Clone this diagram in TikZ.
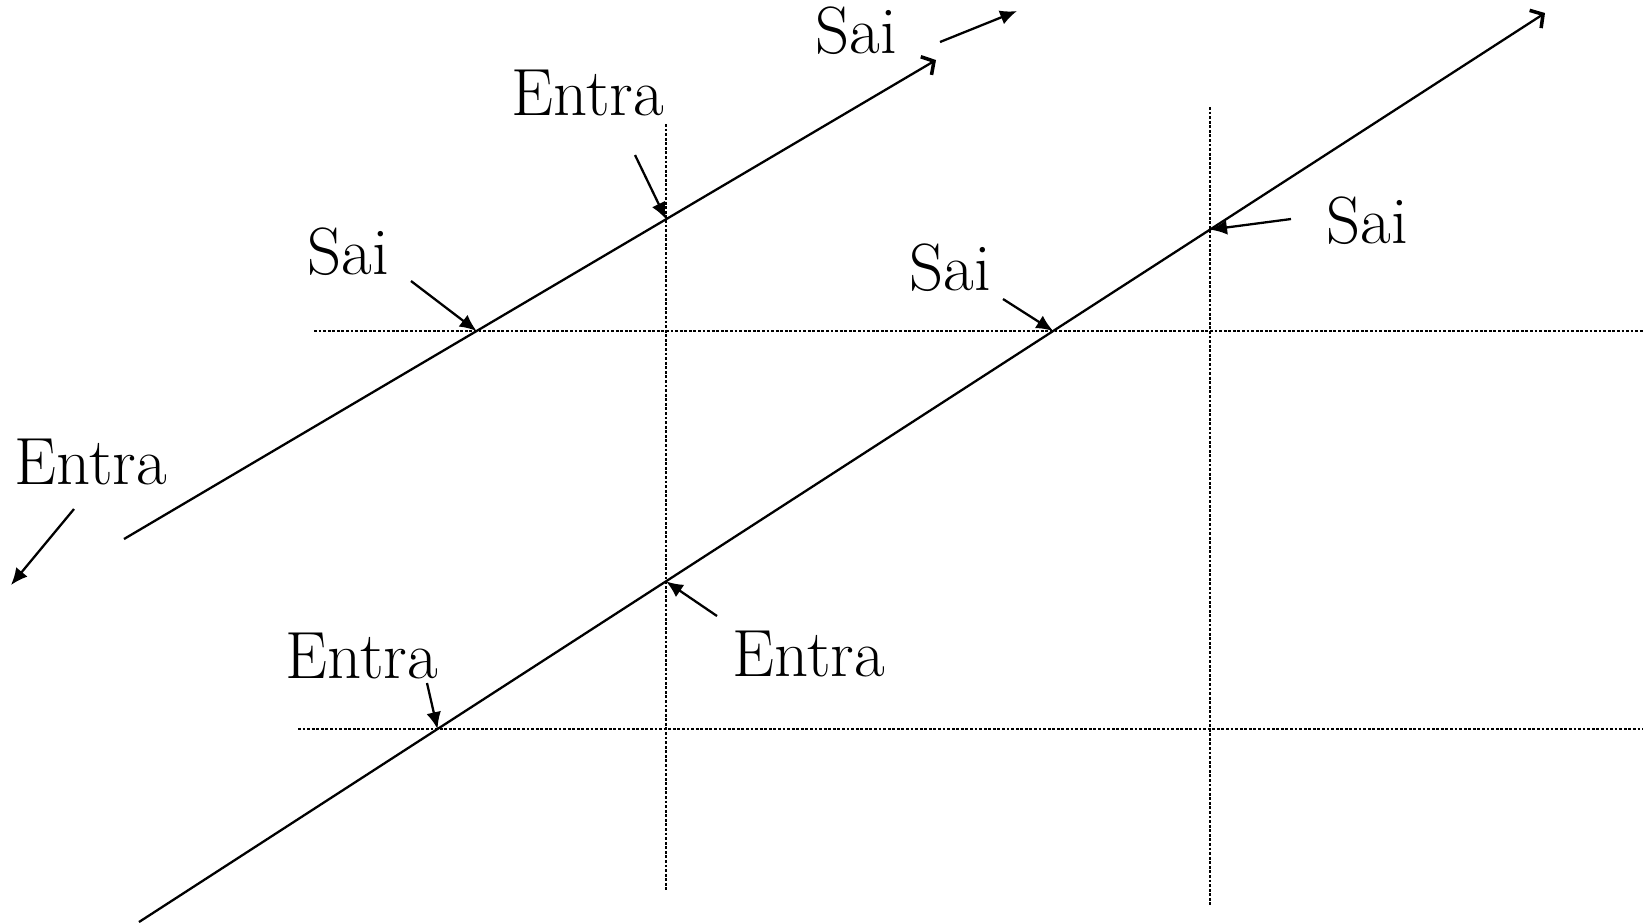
\documentclass[tikz,border=0pt]{standalone}
\usetikzlibrary{arrows.meta}
\tikzset{
  ray/.style={line width=0.65pt,-{Straight Barb[length=2.6pt,width=6pt,line width=1pt]}},
  gridline/.style={line width=0.75pt,dash pattern=on 0.8pt off 0.5pt},
  pointer/.style={line width=0.65pt,-{Latex[length=4.8pt,width=4.2pt]}},
  lbl/.style={inner sep=0pt,font=\fontsize{19}{22}\selectfont},
}

\begin{document}
\begin{tikzpicture}[x=0.01cm,y=-0.01cm]
    \useasboundingbox (0,0) rectangle (1643,923);
    % dotted grid
    \coordinate (h1a) at (314,331);   \coordinate (h1b) at (1643,331);
    \coordinate (h2a) at (298,729);   \coordinate (h2b) at (1643,729);
    \coordinate (v1a) at (666,124);   \coordinate (v1b) at (666,891);
    \coordinate (v2a) at (1210,107);  \coordinate (v2b) at (1210,906);
    \draw[gridline] (h1a) -- (h1b);
    \draw[gridline] (h2a) -- (h2b);
    \draw[gridline] (v1a) -- (v1b);
    \draw[gridline] (v2a) -- (v2b);
    % the two rays
    \coordinate (r1a) at (124,539);   \coordinate (r1b) at (936,60);
    \coordinate (r2a) at (139,922);   \coordinate (r2b) at (1545,13);
    \draw[ray] (r1a) -- (r1b);
    \draw[ray] (r2a) -- (r2b);
    % crossings
    \coordinate (r1h1) at (intersection of r1a--r1b and h1a--h1b);
    \coordinate (r1v1) at (intersection of r1a--r1b and v1a--v1b);
    \coordinate (r2h1) at (intersection of r2a--r2b and h1a--h1b);
    \coordinate (r2h2) at (intersection of r2a--r2b and h2a--h2b);
    \coordinate (r2v1) at (intersection of r2a--r2b and v1a--v1b);
    \coordinate (r2v2) at (intersection of r2a--r2b and v2a--v2b);
    % labels
    \node[lbl] (saitop) at (856,31) {Sai};
    \node[lbl] (entratop) at (588,93) {Entra};
    \node[lbl] (saileft) at (348,252) {Sai};
    \node[lbl] (entraleft) at (91,462) {Entra};
    \node[lbl] (saimid) at (950,268) {Sai};
    \node[lbl] (sairight) at (1367,221) {Sai};
    \node[lbl] (entramid) at (809,654) {Entra};
    \node[lbl] (entralow) at (362,656) {Entra};
    \coordinate (outtop) at (1017,11);
    \coordinate (inleft) at (11,585);
    % pointers
    \draw[pointer] (940,42) -- (outtop);
    \draw[pointer] (635,155) -- (r1v1);
    \draw[pointer] (411,281) -- (r1h1);
    \draw[pointer] (74,509) -- (inleft);
    \draw[pointer] (1003,299) -- (r2h1);
    \draw[pointer] (1291,219) -- (r2v2);
    \draw[pointer] (717,616) -- (r2v1);
    \draw[pointer] (427,683) -- (r2h2);
\end{tikzpicture}
\end{document}
